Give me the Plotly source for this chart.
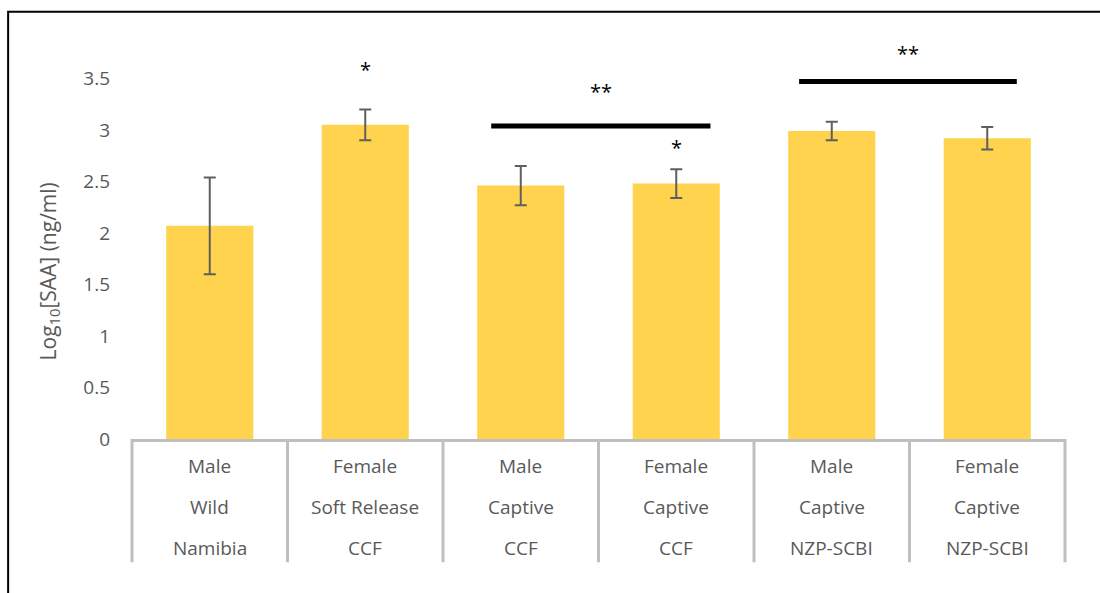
import plotly.graph_objects as go

# Group descriptors (three label rows under each bar)
sex = ["Male", "Female", "Male", "Female", "Male", "Female"]
setting = ["Wild", "Soft Release", "Captive", "Captive", "Captive", "Captive"]
site = ["Namibia", "CCF", "CCF", "CCF", "NZP-SCBI", "NZP-SCBI"]

# Mean log10 serum amyloid A and its error
log_saa = [2.07, 3.05, 2.46, 2.48, 2.99, 2.92]
log_saa_err = [0.47, 0.15, 0.19, 0.14, 0.09, 0.11]

y_ticks = [0, 0.5, 1, 1.5, 2, 2.5, 3, 3.5]
y_tick_text = ["0", "0.5", "1", "1.5", "2", "2.5", "3", "3.5"]

# Significance markers
single_star_bars = [1, 3]
pair_brackets = [(2, 3), (4, 5)]

W, H = 1100, 593
PLOT_L, PLOT_R = 131.5, 1065.5
PLOT_T, PLOT_B = 26.7, 439.5
TEXT = "#595959"
GRID = "#bfbfbf"
FONT = "Open Sans"

x = list(range(len(log_saa)))

fig = go.Figure()
fig.add_trace(go.Bar(
    x=x, y=log_saa,
    marker=dict(color="#FFD34E", line=dict(width=0)),
    error_y=dict(type="data", array=log_saa_err, visible=True,
                 color="#5f5f5f", thickness=2, width=6),
    hoverinfo="skip",
))


def paper_x(px):
    return (px - PLOT_L) / (PLOT_R - PLOT_L)


def paper_y(py):
    return (PLOT_B - py) / (PLOT_B - PLOT_T)


shapes = []
annotations = []

# Outer frame of the figure
shapes.append(dict(type="rect", xref="paper", yref="paper",
                   x0=paper_x(7.5), x1=paper_x(1200), y0=paper_y(700), y1=paper_y(11.5),
                   line=dict(color="black", width=2), fillcolor="rgba(0,0,0,0)", layer="below"))

# Category separators below the axis
n = len(log_saa)
for k in range(n + 1):
    shapes.append(dict(type="line", xref="x domain", yref="paper",
                       x0=k / n, x1=k / n, y0=paper_y(PLOT_B), y1=paper_y(563),
                       line=dict(color=GRID, width=3)))

# Three-row category labels
for i in range(n):
    for labels, py in zip((sex, setting, site), (467, 508, 549)):
        annotations.append(dict(x=i, xref="x", y=paper_y(py), yref="paper",
                                text=labels[i], showarrow=False,
                                xanchor="center", yanchor="middle",
                                font=dict(family=FONT, size=19, color=TEXT)))

# Single-star markers
star_levels = {1: 3.607, 3: 2.851}
for b in single_star_bars:
    annotations.append(dict(x=b, xref="x", y=star_levels[b], yref="y",
                            text="*", showarrow=False, xanchor="center",
                            yanchor="middle", yshift=-2,
                            font=dict(family=FONT, size=20, color="black")))

# Bracket lines with double stars
bracket_levels = [(3.04, 3.393, -0.19, 0.22), (3.471, 3.767, -0.21, 0.19)]
for (a, b), (ly, sy, lo, hi) in zip(pair_brackets, bracket_levels):
    shapes.append(dict(type="line", xref="x", yref="y",
                       x0=a + lo, x1=b + hi, y0=ly, y1=ly,
                       line=dict(color="black", width=5)))
    annotations.append(dict(x=(a + b) / 2 + (hi + lo) / 2, xref="x", y=sy, yref="y",
                            text="**", showarrow=False, xanchor="center",
                            yanchor="middle", yshift=-2,
                            font=dict(family=FONT, size=20, color="black")))

# Y-axis title
annotations.append(dict(x=paper_x(48), y=paper_y(272), xref="paper", yref="paper",
                        text="Log<sub>10</sub>[SAA] (ng/ml)", textangle=-90,
                        showarrow=False, xanchor="center", yanchor="middle",
                        font=dict(family=FONT, size=21, color=TEXT)))

fig.update_layout(
    width=W, height=H,
    margin=dict(l=PLOT_L, r=W - PLOT_R, t=PLOT_T, b=H - PLOT_B, pad=0),
    paper_bgcolor="white", plot_bgcolor="white",
    showlegend=False, bargap=0.44,
    shapes=shapes, annotations=annotations,
    font=dict(family=FONT, color=TEXT),
    xaxis=dict(range=[-0.5, n - 0.5], showticklabels=False, ticks="",
               showgrid=False, zeroline=False, showline=True,
               linecolor=GRID, linewidth=3),
    yaxis=dict(range=[0, 4.0], tickvals=y_ticks, ticktext=y_tick_text,
               showgrid=False, zeroline=False, showline=False, ticks="",
               ticklabelstandoff=21,
               tickfont=dict(family=FONT, size=19, color=TEXT)),
)

fig.write_html("out.html")
